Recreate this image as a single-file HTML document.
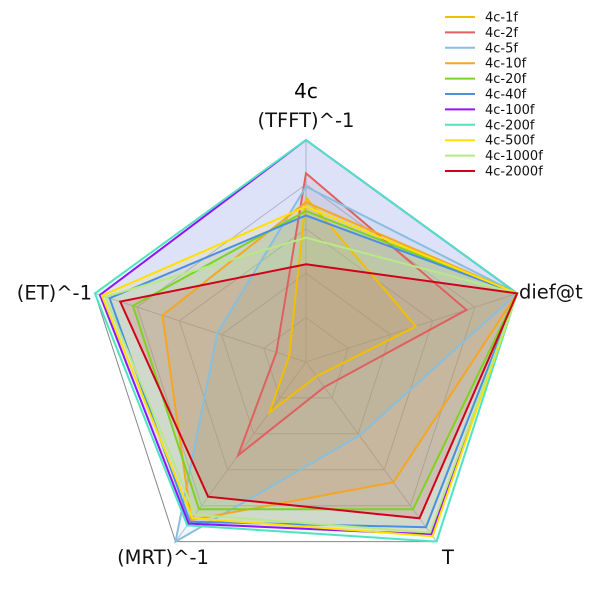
<!DOCTYPE html>
<html><head><meta charset="utf-8"><style>
body{margin:0;background:#fff}
svg text{font-family:"DejaVu Sans",sans-serif}
</style></head><body>
<svg id="chart" width="600" height="600" viewBox="0 0 600 600" xmlns="http://www.w3.org/2000/svg">
<text x="306" y="98" font-size="20" text-anchor="middle">4c</text>
<g id="grid"></g><g id="fills"></g><g id="series"></g><g id="labels"></g><g id="legend"></g>
</svg>
<script>
const axes = ["(TFFT)^-1","dief@t","T","(MRT)^-1","(ET)^-1"];
const seriesNames = ["4c-1f","4c-2f","4c-5f","4c-10f","4c-20f","4c-40f","4c-100f","4c-200f","4c-500f","4c-1000f","4c-2000f"];
const colors = ["#f0c000","#e06060","#87bfdf","#f5a623","#7ed321","#4a90e2","#9013fe","#50e3c2","#ffe000","#b8e986","#d0021b"];
const v1f = [0.74,0.52,0.08,0.28,0.08];
const v2f = [0.85,0.76,0.14,0.52,0.14];
const v5f = [0.79,1.0,0.41,1.0,0.42];
const v10f = [0.72,1.0,0.67,0.88,0.68];
const v20f = [0.68,1.0,0.82,0.82,0.82];
const v40f = [0.66,1.0,0.92,0.89,0.93];
const v100f = [1.0,1.0,0.96,0.90,0.976];
const v200f = [1.0,1.0,1.0,0.91,1.0];
const v500f = [0.70,1.0,0.97,0.87,0.967];
const v1000f = [0.56,1.0,0.95,0.85,0.95];
const v2000f = [0.44,1.0,0.87,0.75,0.88];
const values = [v1f,v2f,v5f,v10f,v20f,v40f,v100f,v200f,v500f,v1000f,v2000f];
const rings = [0.2,0.4,0.6,0.8];

const cx=306, cy=362, R=222, NS="http://www.w3.org/2000/svg";
function ang(i){return -Math.PI/2 + i*2*Math.PI/axes.length;}
function pt(i,v){return [cx+R*v*Math.cos(ang(i)), cy+R*v*Math.sin(ang(i))];}
function poly(vals){return vals.map((v,i)=>pt(i,v).map(n=>n.toFixed(1)).join(",")).join(" ");}
function mk(tag,attrs,parent){const e=document.createElementNS(NS,tag);for(const k in attrs)e.setAttribute(k,attrs[k]);parent.appendChild(e);return e;}
const grid=document.getElementById('grid');
rings.forEach((r,k)=>{
  const p=mk('polygon',{points:poly(axes.map(()=>r)),fill:'none',stroke:'#c4c4c4','stroke-width':1},grid);
  
  
});
axes.forEach((a,i)=>{
  const [x,y]=pt(i,1);
  const l=mk('line',{x1:cx,y1:cy,x2:x,y2:y,stroke:'#c4c4c4','stroke-width':1},grid);
  
  
});
const frame=mk('polygon',{points:poly(axes.map(()=>1)),fill:'none',stroke:'#888888','stroke-width':1},grid);


const fg=document.getElementById('fills');
const sg=document.getElementById('series');
values.forEach((vals,s)=>{
  const f=mk('polygon',{points:poly(vals),fill:colors[s],'fill-opacity':0.12,stroke:'none'},fg);
  
  
});
values.forEach((vals,s)=>{
  const p=mk('polygon',{points:poly(vals),fill:'none',stroke:colors[s],'stroke-width':2,'stroke-linejoin':'miter'},sg);
  
  
});
const lg=document.getElementById('labels');
const lp=[[306,127,'middle'],[519,293,'start'],[448,564,'middle'],[163,564,'middle'],[92,294,'end']];
axes.forEach((a,i)=>{
  const t=mk('text',{x:lp[i][0],y:lp[i][1],'font-size':19.5,'text-anchor':lp[i][2],fill:'#111'},lg);
  if(i===1||i===4) t.setAttribute('dominant-baseline','middle');
  t.textContent=a;
  
  
});
const leg=document.getElementById('legend');
seriesNames.forEach((n,s)=>{
  const y=17+s*15.4;
  const g=mk('g',{},leg);
  
  
  mk('line',{x1:445,y1:y,x2:475,y2:y,stroke:colors[s],'stroke-width':2},g);
  const t=mk('text',{x:485,y:y+4.5,'font-size':13,fill:'#111'},g);
  t.textContent=n;
});
</script>
</body></html>
